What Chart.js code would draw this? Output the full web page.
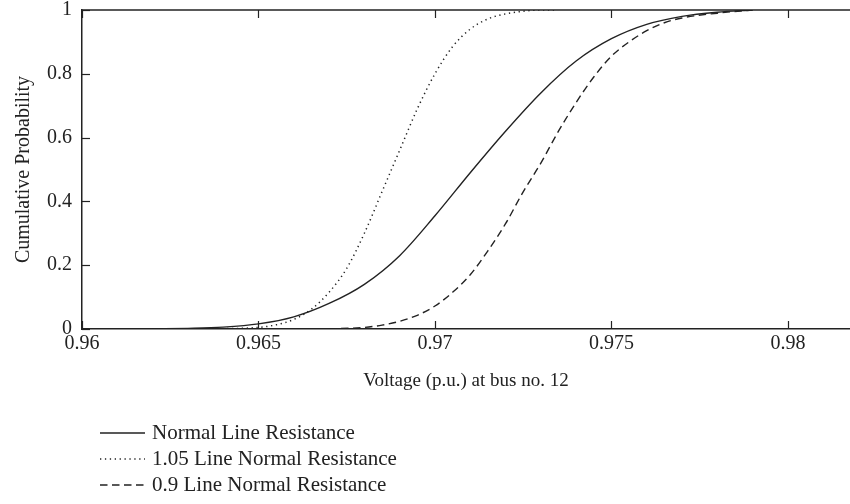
<!DOCTYPE html>
<html>
<head>
<meta charset="utf-8">
<script src="https://cdn.jsdelivr.net/npm/chart.js@4.4.1/dist/chart.umd.min.js"></script>
<style>
  html, body { margin: 0; padding: 0; background: #fff; }
</style>
</head>
<body>
<canvas id="myChart" width="850" height="504"></canvas>
<script>
// values: voltage (p.u.) and cumulative probability
var normalV = [0.962, 0.963, 0.964, 0.965, 0.966, 0.967, 0.968, 0.969, 0.970, 0.971, 0.972, 0.973, 0.974, 0.975, 0.976, 0.977, 0.978, 0.979];
var normalP = [0.0, 0.002, 0.006, 0.016, 0.038, 0.08, 0.14, 0.23, 0.355, 0.49, 0.62, 0.74, 0.84, 0.91, 0.955, 0.98, 0.993, 1.0];

var highV = [0.963, 0.964, 0.965, 0.9655, 0.966, 0.9665, 0.967, 0.9675, 0.968, 0.9685, 0.969, 0.9695, 0.970, 0.9705, 0.971, 0.9715, 0.972, 0.9725, 0.973, 0.9734];
var highP = [0.0, 0.001, 0.005, 0.013, 0.03, 0.062, 0.115, 0.19, 0.3, 0.43, 0.56, 0.69, 0.8, 0.885, 0.94, 0.972, 0.988, 0.996, 1.0, 1.0];

var lowV = [0.967, 0.968, 0.9685, 0.969, 0.9695, 0.970, 0.9705, 0.971, 0.9715, 0.972, 0.9725, 0.973, 0.9735, 0.974, 0.9745, 0.975, 0.9755, 0.976, 0.9765, 0.977, 0.978, 0.979];
var lowP = [0.0, 0.005, 0.012, 0.024, 0.043, 0.072, 0.115, 0.17, 0.245, 0.33, 0.43, 0.52, 0.62, 0.71, 0.79, 0.855, 0.9, 0.935, 0.96, 0.975, 0.99, 1.0];

var seriesNames = ['Normal Line Resistance', '1.05 Line Normal Resistance', '0.9 Line Normal Resistance'];
var xTicks = [0.96, 0.965, 0.97, 0.975, 0.98];
var yTicks = [0, 0.2, 0.4, 0.6, 0.8, 1];

function toPoints(xs, ys) {
  return xs.map(function (x, i) { return { x: x, y: ys[i] }; });
}

var serif = "'Liberation Serif', 'DejaVu Serif', serif";
var ink = '#222';
var dashes = [[], [1.3, 3.6], [7.5, 4.5]];

// inward ticks, top frame line and the legend underneath
var framePlugin = {
  id: 'frame',
  afterDraw: function (chart) {
    var ctx = chart.ctx;
    var a = chart.chartArea;
    var sx = chart.scales.x, sy = chart.scales.y;
    ctx.save();
    ctx.strokeStyle = ink;
    ctx.lineWidth = 1.5;
    ctx.beginPath();
    ctx.moveTo(a.left, a.top);
    ctx.lineTo(a.right, a.top);
    ctx.stroke();
    ctx.lineWidth = 1.2;
    xTicks.forEach(function (v) {
      var px = Math.round(sx.getPixelForValue(v)) + 0.5;
      ctx.beginPath();
      ctx.moveTo(px, a.bottom); ctx.lineTo(px, a.bottom - 8);
      ctx.moveTo(px, a.top); ctx.lineTo(px, a.top + 8);
      ctx.stroke();
    });
    yTicks.forEach(function (v) {
      var py = Math.round(sy.getPixelForValue(v)) + 0.5;
      ctx.beginPath();
      ctx.moveTo(a.left, py); ctx.lineTo(a.left + 8, py);
      ctx.stroke();
    });
    // legend
    ctx.font = '21px ' + serif;
    ctx.fillStyle = ink;
    ctx.textBaseline = 'middle';
    chart.data.datasets.forEach(function (ds, i) {
      var y = a.bottom + 104 + i * 26;
      ctx.setLineDash(ds.borderDash || []);
      ctx.lineWidth = 1.3;
      ctx.beginPath();
      ctx.moveTo(100, y); ctx.lineTo(145, y);
      ctx.stroke();
      ctx.setLineDash([]);
      ctx.fillText(ds.label, 152, y);
    });
    ctx.restore();
  }
};

var datas = [{
  label: seriesNames[0],
  data: toPoints(normalV, normalP),
  borderColor: ink,
  borderWidth: 1.4,
  borderDash: dashes[0]
}, {
  label: seriesNames[1],
  data: toPoints(highV, highP),
  borderColor: ink,
  borderWidth: 1.5,
  borderDash: dashes[1]
}, {
  label: seriesNames[2],
  data: toPoints(lowV, lowP),
  borderColor: ink,
  borderWidth: 1.4,
  borderDash: dashes[2]
}];

var ctx = document.getElementById('myChart');
var mixedChart = new Chart(ctx, {
  type: 'line',
  data: { datasets: datas },
  plugins: [framePlugin],
  options: {
    responsive: false,
    animation: false,
    layout: { padding: { left: 0, right: 0, top: 10, bottom: 104 } },
    elements: {
      point: { radius: 0 },
      line: { cubicInterpolationMode: 'monotone', fill: false }
    },
    plugins: {
      legend: { display: false },
      tooltip: { enabled: false }
    },
    scales: {
      x: {
        type: 'linear',
        min: 0.96,
        max: 0.98176,
        afterBuildTicks: function (s) { s.ticks = xTicks.map(function (v) { return { value: v }; }); },
        afterFit: function (s) { s.height = 71; s.paddingLeft = 0; s.paddingRight = 0; },
        ticks: {
          color: ink, padding: 3, maxRotation: 0, autoSkip: false,
          font: { family: serif, size: 20 },
          callback: function (v) { return parseFloat(v.toFixed(3)).toString(); }
        },
        grid: { display: false, drawTicks: false },
        border: { display: true, color: ink, width: 1.5 },
        title: {
          display: true, text: 'Voltage (p.u.) at bus no. 12', color: ink,
          font: { family: serif, size: 19 }, padding: { top: 0, bottom: 8 }
        }
      },
      y: {
        min: 0,
        max: 1,
        afterBuildTicks: function (s) { s.ticks = yTicks.map(function (v) { return { value: v }; }); },
        afterFit: function (s) { s.width = 82; s.paddingTop = 0; s.paddingBottom = 0; },
        ticks: {
          color: ink, padding: 10,
          font: { family: serif, size: 20 },
          callback: function (v) { return String(v); }
        },
        grid: { display: false, drawTicks: false },
        border: { display: true, color: ink, width: 1.5 },
        title: {
          display: true, text: 'Cumulative Probability', color: ink,
          font: { family: serif, size: 20 }, padding: { top: 12, bottom: 0 }
        }
      }
    }
  }
});
</script>
</body>
</html>
